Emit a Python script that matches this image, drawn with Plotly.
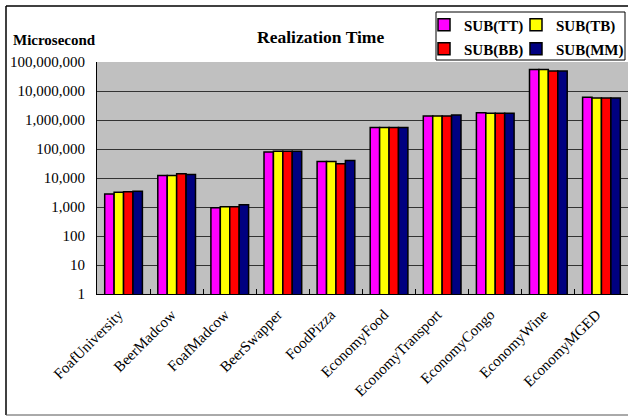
import plotly.graph_objects as go

categories = ["FoafUniversity", "BeerMadcow", "FoafMadcow", "BeerSwapper", "FoodPizza",
              "EconomyFood", "EconomyTransport", "EconomyCongo", "EconomyWine", "EconomyMGED"]
sub_tt = [2800, 12300, 950, 79000, 37000, 550000, 1370000, 1780000, 55000000, 6100000]
sub_tb = [3200, 12300, 1020, 83000, 37000, 550000, 1370000, 1700000, 55000000, 5700000]
sub_bb = [3350, 14000, 1020, 83000, 31000, 550000, 1370000, 1700000, 49000000, 5700000]
sub_mm = [3500, 13300, 1200, 84000, 40000, 550000, 1480000, 1700000, 49000000, 5700000]
series_names = ["SUB(TT)", "SUB(TB)", "SUB(BB)", "SUB(MM)"]
series_colors = ["#FF00FF", "#FFFF00", "#FF0000", "#000080"]
tick_vals = [1, 10, 100, 1000, 10000, 100000, 1000000, 10000000, 100000000]
tick_text = ["1", "10", "100", "1,000", "10,000", "100,000", "1,000,000", "10,000,000", "100,000,000"]

W, H = 628, 417
L, R, T, B = 97, 0, 62, 123
serif = "Liberation Serif, Times New Roman, serif"

fig = go.Figure()
legend_ids = ["legend", "legend2", "legend3", "legend4"]
for name, vals, col, lg in zip(series_names, [sub_tt, sub_tb, sub_bb, sub_mm], series_colors, legend_ids):
    fig.add_trace(go.Bar(
        x=categories, y=vals, name=name, legend=lg,
        marker=dict(color=col, line=dict(color="black", width=1.5)),
    ))

# legend positions (container px)
leg_pos = {"legend": (424, 25), "legend2": (516, 25), "legend3": (424, 49), "legend4": (516, 49)}
leg_layout = {}
for lg, (px, py) in leg_pos.items():
    leg_layout[lg] = dict(
        xref="container", yref="container", x=px / W, y=1 - py / H,
        xanchor="left", yanchor="middle", bgcolor="rgba(0,0,0,0)", borderwidth=0,
        font=dict(family=serif, size=15, color="black", weight="bold"),
    )

def px2paper_x(px):
    return (px - L) / (W - L - R)

def px2paper_y(py):
    return (H - B - py) / (H - T - B)

frame_line = dict(color="black", width=1.5)
fig.update_layout(
    width=W, height=H,
    margin=dict(l=L, r=R, t=T, b=B, pad=0, autoexpand=False),
    paper_bgcolor="white", plot_bgcolor="#C0C0C0",
    barmode="group", bargap=0.29, bargroupgap=0,
    font=dict(family=serif, size=15, color="black"),
    showlegend=True,
    **leg_layout,
    xaxis=dict(
        type="category", showline=True, linecolor="black", linewidth=1,
        ticks="inside", tickson="boundaries", ticklen=5, tickcolor="black",
        tickangle=-45, tickfont=dict(family=serif, size=15, color="black"),
        ticklabelstandoff=5, ticklabelshift=-5,
        showgrid=False, automargin=False,
    ),
    yaxis=dict(
        type="log", range=[0, 8], tickvals=tick_vals, ticktext=tick_text,
        showline=True, linecolor="black", linewidth=1,
        showgrid=True, gridcolor="#333333", gridwidth=1,
        ticks="", ticklabelstandoff=8,
        tickfont=dict(family=serif, size=15, color="black"),
        zeroline=False, automargin=False,
    ),
    shapes=[
        dict(type="line", xref="paper", yref="paper",
             x0=px2paper_x(6), x1=px2paper_x(6), y0=px2paper_y(415), y1=px2paper_y(6), line=frame_line),
        dict(type="line", xref="paper", yref="paper",
             x0=px2paper_x(6), x1=px2paper_x(640), y0=px2paper_y(6), y1=px2paper_y(6), line=frame_line),
        dict(type="line", xref="paper", yref="paper",
             x0=px2paper_x(6), x1=px2paper_x(640), y0=px2paper_y(415), y1=px2paper_y(415),
             line=dict(color="#555555", width=1)),
        dict(type="rect", xref="paper", yref="paper",
             x0=px2paper_x(436), x1=px2paper_x(625), y0=px2paper_y(60), y1=px2paper_y(12),
             line=dict(color="black", width=1), fillcolor="white", layer="above"),
    ],
    annotations=[
        dict(text="<b>Realization Time</b>", xref="paper", yref="paper",
             x=px2paper_x(320), y=px2paper_y(37), xanchor="center", yanchor="middle",
             showarrow=False, font=dict(family=serif, size=17.5, color="black")),
        dict(text="<b>Microsecond</b>", xref="paper", yref="paper",
             x=px2paper_x(11), y=px2paper_y(40), xanchor="left", yanchor="middle",
             showarrow=False, font=dict(family=serif, size=15, color="black")),
    ],
)

fig.write_html("out.html", config={"displayModeBar": False},
               post_script="document.body.style.margin='0';document.body.style.overflow='hidden';")
